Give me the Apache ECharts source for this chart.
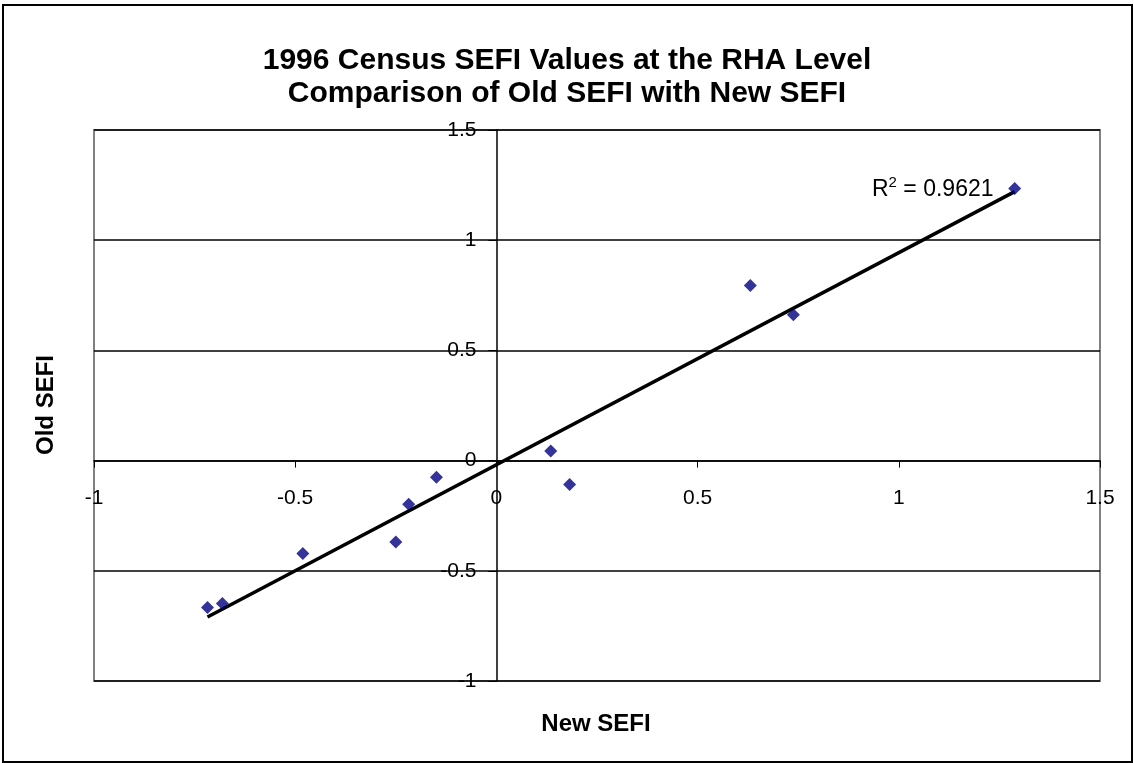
<!DOCTYPE html>
<html>
<head>
<meta charset="utf-8">
<script src="https://cdn.jsdelivr.net/npm/echarts@6/dist/echarts.min.js"></script>
<style>
html,body{margin:0;padding:0;background:#fff;}
#chart{width:1134px;height:763px;}
</style>
</head>
<body>
<div id="chart"></div>
<script>
const titleLines = ['1996 Census SEFI Values at the RHA Level', 'Comparison of Old SEFI with New SEFI'];
const xAxisTitle = 'New SEFI';
const yAxisTitle = 'Old SEFI';
const newSEFI = [-0.718, -0.681, -0.481, -0.250, -0.218, -0.149, 0.135, 0.182, 0.631, 0.738, 1.288];
const oldSEFI = [-0.666, -0.648, -0.421, -0.369, -0.198, -0.076, 0.044, -0.108, 0.795, 0.662, 1.235];
const r2Text = '0.9621';
const xMin = -1, xMax = 1.5, yMin = -1, yMax = 1.5, step = 0.5;

// linear least-squares trend line
const n = newSEFI.length;
const mx = newSEFI.reduce((a, b) => a + b, 0) / n;
const my = oldSEFI.reduce((a, b) => a + b, 0) / n;
let sxy = 0, sxx = 0;
for (let i = 0; i < n; i++) { sxy += (newSEFI[i] - mx) * (oldSEFI[i] - my); sxx += (newSEFI[i] - mx) ** 2; }
const slope = sxy / sxx, icpt = my - slope * mx;
const lo = Math.min(...newSEFI), hi = Math.max(...newSEFI);
const trend = [[lo, icpt + slope * lo], [hi, icpt + slope * hi]];

const W = 1134, H = 763;
const G = { left: 94, right: 34, top: 130, bottom: 82 };
const gridW = W - G.left - G.right, gridH = H - G.top - G.bottom;
// move axes so they cross at zero (labels follow the axis line)
const xOffset = -gridH * (0 - yMin) / (yMax - yMin);
const yOffset = -gridW * (0 - xMin) / (xMax - xMin);

const FONT = '"Liberation Sans", Arial, sans-serif';
const chart = echarts.init(document.getElementById('chart'));
chart.setOption({
  animation: false,
  backgroundColor: '#fff',
  title: {
    text: titleLines.join('\n'),
    left: 'center',
    top: 39,
    textStyle: { fontFamily: FONT, fontSize: 30, fontWeight: 'bold', color: '#000', lineHeight: 33 }
  },
  grid: Object.assign({ show: true, borderColor: '#808080', borderWidth: 2, containLabel: false }, G),
  xAxis: {
    type: 'value', min: xMin, max: xMax, interval: step, position: 'bottom', offset: xOffset,
    axisLine: { show: true, onZero: false, lineStyle: { color: '#000', width: 1.5 } },
    axisTick: { show: true, inside: false, length: 7, lineStyle: { color: '#000' } },
    axisLabel: { show: true, margin: 27, fontFamily: FONT, fontSize: 21, color: '#000', showMinLabel: true, showMaxLabel: true },
    splitLine: { show: false }
  },
  yAxis: {
    type: 'value', min: yMin, max: yMax, interval: step, position: 'left', offset: yOffset,
    axisLine: { show: true, onZero: false, lineStyle: { color: '#000', width: 1.5 } },
    axisTick: { show: true, inside: false, length: 8, lineStyle: { color: '#000' } },
    axisLabel: { show: true, margin: 20, fontFamily: FONT, fontSize: 21, color: '#000', showMinLabel: true, showMaxLabel: true },
    splitLine: { show: true, lineStyle: { color: '#000', width: 1.5 } }
  },
  series: [
    {
      type: 'line', data: trend, symbol: 'none', silent: true,
      lineStyle: { color: '#000', width: 3.5 }, z: 3
    },
    {
      type: 'scatter', data: newSEFI.map((x, i) => [x, oldSEFI[i]]),
      symbol: 'diamond', symbolSize: 13,
      itemStyle: { color: '#000080' }, z: 4
    }
  ],
  graphic: [
    { type: 'rect', shape: { x: 3, y: 5, width: 1129, height: 757 }, style: { fill: 'none', stroke: '#000', lineWidth: 2 }, silent: true },
    { type: 'text', x: 596, y: 724, style: { text: xAxisTitle, fontFamily: FONT, fontSize: 24, fontWeight: 'bold', fill: '#000', align: 'center', verticalAlign: 'middle' } },
    { type: 'text', x: 46, y: 405, rotation: Math.PI / 2, style: { text: yAxisTitle, fontFamily: FONT, fontSize: 24, fontWeight: 'bold', fill: '#000', align: 'center', verticalAlign: 'middle' } },
    { type: 'text', x: 872, y: 188, style: {
        text: '{r|R}{s|2}{r| = ' + r2Text + '}',
        verticalAlign: 'middle',
        rich: {
          r: { fontFamily: FONT, fontSize: 23, fill: '#000', color: '#000', verticalAlign: 'bottom', lineHeight: 26 },
          s: { fontFamily: FONT, fontSize: 15, fill: '#000', color: '#000', verticalAlign: 'top', lineHeight: 26 }
        } } }
  ]
});
</script>
</body>
</html>
